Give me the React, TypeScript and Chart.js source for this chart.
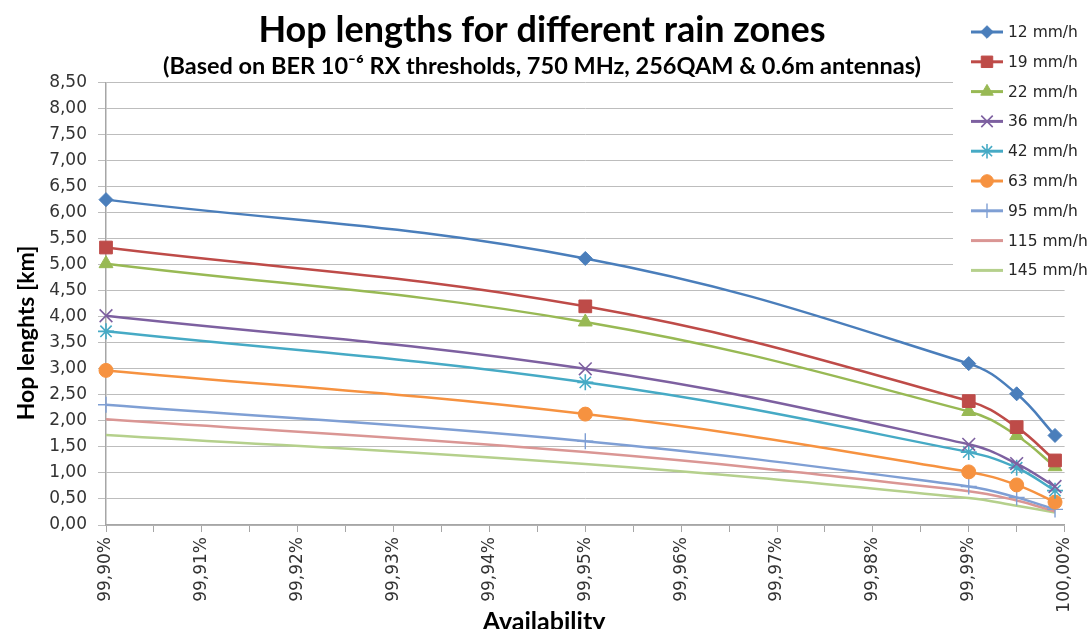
import React, { useEffect, useRef } from 'react';
import { Chart, registerables } from 'chart.js';
import { drawPoint } from 'chart.js/helpers';

Chart.register(...registerables);

// ---------- data ----------
const availability = [99.9, 99.95, 99.99, 99.995, 99.999];

const seriesNames = ['12 mm/h', '19 mm/h', '22 mm/h', '36 mm/h', '42 mm/h', '63 mm/h', '95 mm/h', '115 mm/h', '145 mm/h'];

const hop12 = [6.25, 5.12, 3.1, 2.52, 1.72];
const hop19 = [5.33, 4.2, 2.38, 1.88, 1.24];
const hop22 = [5.02, 3.9, 2.18, 1.72, 1.12];
const hop36 = [4.02, 3.0, 1.55, 1.18, 0.74];
const hop42 = [3.72, 2.74, 1.4, 1.1, 0.66];
const hop63 = [2.97, 2.13, 1.02, 0.77, 0.44];
const hop95 = [2.31, 1.61, 0.74, 0.53, 0.3];
const hop115 = [2.03, 1.4, 0.65, 0.47, 0.26];
const hop145 = [1.73, 1.17, 0.52, 0.37, 0.24];

const seriesValues = [hop12, hop19, hop22, hop36, hop42, hop63, hop95, hop115, hop145];

const xTickLabels = ['99,90%', '99,91%', '99,92%', '99,93%', '99,94%', '99,95%', '99,96%', '99,97%', '99,98%', '99,99%', '100,00%'];
const yTickLabels = ['0,00', '0,50', '1,00', '1,50', '2,00', '2,50', '3,00', '3,50', '4,00', '4,50', '5,00', '5,50', '6,00', '6,50', '7,00', '7,50', '8,00', '8,50'];

const titleText = 'Hop lengths for different rain zones';
const subtitleText = '(Based on BER 10\u207B\u2076 RX thresholds, 750 MHz, 256QAM & 0.6m antennas)';
const yTitleText = 'Hop lenghts [km]';
const xTitleText = 'Availability';

// ---------- styles ----------
const colors = ['#4A7EBB', '#BE4B48', '#98B954', '#7D60A0', '#46AAC5', '#F69240', '#7F9FD4', '#DA9694', '#B5D08C'];
const pointStyles = ['rectRot', 'rect', 'triangle', 'crossRot', 'star', 'circle', 'cross', 'circle', 'circle'];
const pointRadii = [7, 9, 8, 9, 8, 7, 8, 0, 0];
const pointBorderWidths = [1, 1, 1, 1.6, 1.6, 1, 1.4, 1, 1];

const overlayPlugin = {
  id: 'overlay',
  afterDraw(chart: any) {
    const ctx = chart.ctx as CanvasRenderingContext2D;
    ctx.save();
    // legend box
    ctx.fillStyle = '#ffffff';
    ctx.fillRect(953, 0, 137, 283);
    chart.data.datasets.forEach((ds: any, i: number) => {
      const y = 32 + i * 29.8;
      ctx.strokeStyle = ds.borderColor;
      ctx.lineWidth = 3;
      ctx.beginPath();
      ctx.moveTo(971, y);
      ctx.lineTo(1003, y);
      ctx.stroke();
      if (ds.pointRadius > 0) {
        ctx.fillStyle = ds.pointBackgroundColor;
        ctx.strokeStyle = ds.pointBorderColor;
        ctx.lineWidth = ds.pointBorderWidth;
        drawPoint(ctx, { pointStyle: ds.pointStyle, radius: ds.pointRadius * 0.9, borderWidth: ds.pointBorderWidth, rotation: 0 } as any, 987, y);
      }
      ctx.fillStyle = '#262626';
      ctx.font = '15.5px "DejaVu Sans"';
      ctx.textBaseline = 'middle';
      ctx.textAlign = 'left';
      ctx.fillText(ds.label, 1008, y + 1);
    });
    // axis titles
    ctx.fillStyle = '#000000';
    ctx.textAlign = 'center';
    ctx.textBaseline = 'alphabetic';
    ctx.save();
    ctx.font = 'bold 23px Lato';
    ctx.translate(34, 333);
    ctx.rotate(-Math.PI / 2);
    ctx.fillText(yTitleText, 0, 0);
    ctx.restore();
    ctx.font = 'bold 25px Lato';
    ctx.fillText(xTitleText, 544, 630);
    ctx.restore();
  },
};

export default function App() {
  const canvasRef = useRef<HTMLCanvasElement | null>(null);

  useEffect(() => {
    document.body.style.margin = '0';
    const canvas = canvasRef.current;
    if (!canvas) return;

    const datasets = seriesNames.map((name, i) => ({
      label: name,
      data: availability.map((x, j) => ({ x, y: seriesValues[i][j] })),
      borderColor: colors[i],
      backgroundColor: colors[i],
      pointBackgroundColor: colors[i],
      pointBorderColor: colors[i],
      pointStyle: pointStyles[i],
      pointRadius: pointRadii[i],
      pointBorderWidth: pointBorderWidths[i],
      borderWidth: 2.5,
      tension: 0.4,
      fill: false,
      clip: false,
    }));

    const chart = new Chart(canvas, {
      type: 'line',
      data: { datasets: datasets as any },
      plugins: [overlayPlugin],
      options: {
        animation: false,
        responsive: false,
        devicePixelRatio: 1,
        layout: { padding: { left: 16, right: 22, top: 0, bottom: 0 } },
        plugins: {
          legend: { display: false },
          tooltip: { enabled: false },
          title: {
            display: true,
            text: titleText,
            color: '#000000',
            font: { family: 'Lato', size: 36, weight: 'bold', lineHeight: 1.0 },
            padding: { top: 12, bottom: 7 },
          },
          subtitle: {
            display: true,
            text: subtitleText,
            color: '#000000',
            font: { family: 'Lato', size: 23.5, weight: 'bold', lineHeight: 1.0 },
            padding: { top: 0, bottom: 4 },
          },
        },
        scales: {
          x: {
            type: 'linear',
            min: 99.9,
            max: 100,
            afterFit: (scale: any) => {
              scale.height = 104;
            },
            ticks: {
              stepSize: 0.005,
              autoSkip: false,
              maxRotation: 90,
              minRotation: 90,
              padding: 5,
              color: '#333333',
              font: { family: 'DejaVu Sans', size: 17 },
              callback: (value: any) => {
                const k = Math.round((Number(value) - 99.9) / 0.005);
                return k % 2 === 0 ? xTickLabels[k / 2] : '';
              },
            },
            grid: {
              drawOnChartArea: false,
              drawTicks: true,
              tickLength: 7,
              color: '#a6a6a6',
            },
            border: { display: true, color: '#a6a6a6', width: 1.5 },
          },
          y: {
            min: 0,
            max: 8.5,
            afterFit: (scale: any) => {
              scale.width = 90;
            },
            ticks: {
              stepSize: 0.5,
              padding: 11,
              color: '#333333',
              font: { family: 'DejaVu Sans', size: 17 },
              callback: (_v: any, index: number) => yTickLabels[index],
            },
            grid: {
              color: '#bdbdbd',
              lineWidth: 1,
              tickLength: 8,
            },
            border: { display: true, color: '#a6a6a6', width: 1.5 },
          },
        },
      },
    });

    return () => {
      chart.destroy();
    };
  }, []);

  return (
    <div style={{ width: 1090, height: 629, position: 'relative', background: '#fff' }}>
      <canvas ref={canvasRef} width={1090} height={629} style={{ display: 'block', width: 1090, height: 629 }} />
    </div>
  );
}
